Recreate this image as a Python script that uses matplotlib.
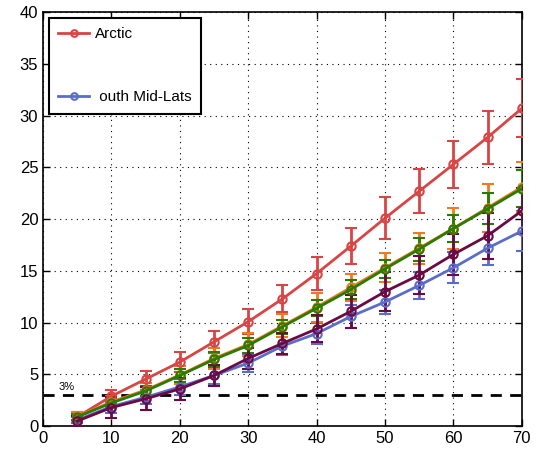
import numpy as np
import matplotlib
matplotlib.use("Agg")
import matplotlib.pyplot as plt

plt.rcParams["font.family"] = ["Liberation Sans", "DejaVu Sans"]

# data
x = [5, 10, 15, 20, 25, 30, 35, 40, 45, 50, 55, 60, 65, 70]

arctic = [0.9, 2.9, 4.55, 6.2, 8.15, 10.1, 12.3, 14.75, 17.4, 20.1, 22.7, 25.3, 27.9, 30.7]
arctic_err = [0.45, 0.55, 0.8, 1.0, 1.05, 1.2, 1.3, 1.55, 1.75, 2.05, 2.15, 2.3, 2.55, 2.8]

south = [0.6, 1.9, 2.8, 3.8, 4.9, 6.1, 7.75, 8.95, 10.6, 12.0, 13.6, 15.3, 17.2, 18.85]
south_err = [0.3, 0.6, 0.7, 0.8, 0.8, 0.9, 0.9, 1.0, 1.1, 1.2, 1.3, 1.5, 1.6, 1.9]

orange = [0.95, 2.35, 3.5, 4.95, 6.55, 7.9, 9.7, 11.5, 13.4, 15.3, 17.2, 19.1, 21.1, 23.1]
orange_err = [0.4, 0.6, 0.7, 0.9, 1.0, 1.1, 1.1, 1.4, 1.3, 1.4, 1.5, 2.0, 2.3, 2.4]

green = [0.9, 2.25, 3.4, 4.9, 6.45, 7.8, 9.6, 11.4, 13.2, 15.2, 17.1, 19.1, 21.0, 22.95]
green_err = [0.3, 0.4, 0.5, 0.6, 0.7, 0.7, 0.7, 0.8, 0.9, 0.9, 1.1, 1.3, 1.5, 1.8]

purple = [0.5, 1.8, 2.65, 3.6, 4.9, 6.55, 8.0, 9.4, 11.1, 13.0, 14.6, 16.6, 18.4, 20.8]
purple_err = [0.45, 1.0, 1.1, 1.05, 1.0, 1.0, 1.0, 1.3, 1.6, 1.9, 1.8, 2.0, 2.2, 2.2]

threshold = 3

fig = plt.figure(figsize=(5.39, 4.51), dpi=100)
ax = fig.add_axes([0.080, 0.055, 0.888, 0.918])

series = [
    (arctic, arctic_err, "#d94545", "Arctic"),
    (south, south_err, "#5b6dcc", " outh Mid-Lats"),
    (orange, orange_err, "#f07a22", None),
    (green, green_err, "#2a7c00", None),
    (purple, purple_err, "#6b0a42", None),
]

handles = []
for vals, err, col, lab in series:
    line, caps, bars = ax.errorbar(x, vals, yerr=err, color=col, lw=2, marker="o", ms=6,
                                   mfc="none", mew=1.5, capsize=4, capthick=2,
                                   elinewidth=2, zorder=3)
    if lab:
        handles.append(line)

ax.axhline(threshold, color="black", ls="--", lw=2, dashes=(4, 3), zorder=2)
ax.text(2.2, threshold + 0.5, "3%", fontsize=8)

ax.set_xlim(0, 70)
ax.set_ylim(0, 40)
ax.set_xticks(range(0, 71, 10))
ax.set_yticks(range(0, 41, 5))
ax.tick_params(direction="in", top=True, right=True, labelsize=12, length=5, width=1)
ax.grid(True, ls=(0, (1, 4)), color="black", lw=0.8)
for s in ax.spines.values():
    s.set_linewidth(1.2)

leg = ax.legend(handles=handles, labels=["Arctic", " outh Mid-Lats"], loc="upper left",
                fontsize=11, labelspacing=3.2, handlelength=2.0, handletextpad=0.4,
                borderpad=0.6, fancybox=False, framealpha=1, edgecolor="black",
                bbox_to_anchor=(0.0, 1.0), borderaxespad=0.4, markerscale=0.8)
leg.get_frame().set_linewidth(1.5)

plt.savefig("out.png", dpi=100)
plt.close()
